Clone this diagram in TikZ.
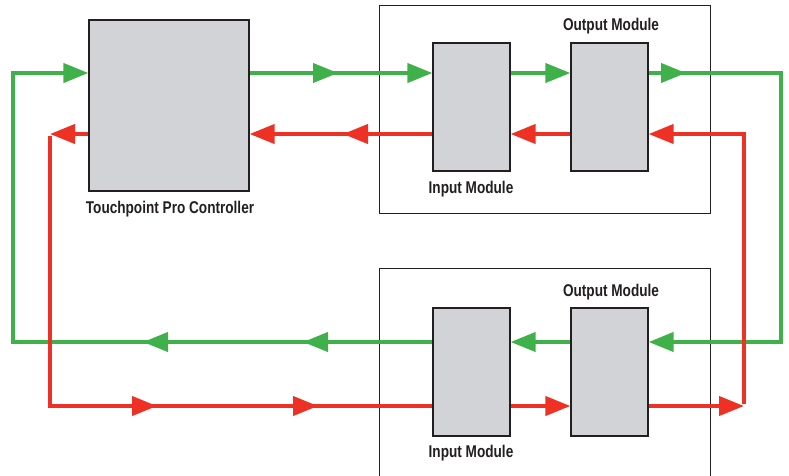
\documentclass[tikz,border=0pt]{standalone}
\usepackage{fontspec}
\setmainfont[FakeStretch=0.8]{Liberation Sans}
\usepackage{tikz}
\usetikzlibrary{arrows.meta}
\definecolor{boxgray}{HTML}{D1D3D6}
\definecolor{ink}{HTML}{231F20}
\definecolor{sigg}{HTML}{40B04A}
\definecolor{sigr}{HTML}{EE3124}
\begin{document}
\begin{tikzpicture}[x = 1pt, y = -1pt,
                        module/.style = {rectangle, draw = ink, line width = 1.2pt, fill = boxgray, inner sep = 0pt},
                        rack/.style = {draw = ink, line width = 1pt},
                        lbl/.style = {text = ink, font = \bfseries\fontsize{17}{19}\selectfont, inner sep = 0pt},
                        gline/.style = {draw = sigg, line width = 4pt},
                        rline/.style = {draw = sigr, line width = 4pt},
                        arr/.style = {-{Triangle[length = 25pt, width = 19pt]}}]
      \useasboundingbox (0, 0) rectangle (789, 475);
      \draw [rack] (379, 5) rectangle (710, 213);
      \draw [rack] (379, 268) rectangle (710, 480);
      \node [module, minimum width = 160pt, minimum height = 171pt] (ctrl) at (169, 105.5){};
      \node [module, minimum width = 77pt, minimum height = 128pt] (in1) at (471.5, 107){};
      \node [module, minimum width = 77pt, minimum height = 128pt] (out1) at (609.5, 107){};
      \node [module, minimum width = 77pt, minimum height = 128pt] (in2) at (471.5, 372){};
      \node [module, minimum width = 77pt, minimum height = 128pt] (out2) at (609.5, 372){};
      \node [lbl] (lctrl) at (170, 209){Touchpoint Pro Controller};
      \node [lbl] (lout1) at (611, 26){Output Module};
      \node [lbl] (lin1) at (471, 189){Input Module};
      \node [lbl] (lout2) at (611, 292){Output Module};
      \node [lbl] (lin2) at (471, 453){Input Module};
      % corners and mid-line arrows
      \coordinate (gl1) at (13, 342);
      \coordinate (gl2) at (13, 73);
      \coordinate (gr1) at (781, 73);
      \coordinate (gr2) at (781, 342);
      \coordinate (rl1) at (50, 134);
      \coordinate (rl2) at (50, 406);
      \coordinate (rr1) at (744, 406);
      \coordinate (rr2) at (744, 134);
      \coordinate (ga1) at (303, 342);
      \coordinate (ga2) at (143, 342);
      \coordinate (ga3) at (338, 73);
      \coordinate (ga4) at (686, 73);
      \coordinate (ra1) at (157, 406);
      \coordinate (ra2) at (318, 406);
      \coordinate (ra3) at (343, 134);
      % green loop
      \draw [gline, arr] (in2.west |- gl1) -- (gl1) -- (gl2) -- (ctrl.west |- gl2);
      \draw [gline, arr] (in2.west |- ga1) -- (ga1);
      \draw [gline, arr] (ga1) -- (ga2);
      \draw [gline, arr] (ctrl.east |- ga3) -- (in1.west |- ga3);
      \draw [gline, arr] (ctrl.east |- ga3) -- (ga3);
      \draw [gline, arr] (in1.east |- ga3) -- (out1.west |- ga3);
      \draw [gline, arr] (out1.east |- ga4) -- (gr1) -- (gr2) -- (out2.east |- gr2);
      \draw [gline, arr] (out1.east |- ga4) -- (ga4);
      \draw [gline, arr] (out2.west |- gr2) -- (in2.east |- gr2);
      % red loop
      \draw [rline, arr] (ctrl.west |- rl1) -- (rl1);
      \draw [rline] ([yshift = -2pt]rl1) -- (rl2) -- (in2.west |- rl2);
      \draw [rline, arr] (rl2) -- (ra1);
      \draw [rline, arr] (ra1) -- (ra2);
      \draw [rline, arr] (in2.east |- ra2) -- (out2.west |- ra2);
      \draw [rline, arr] (out2.east |- rr1) -- (rr1);
      \draw [rline, arr] ([yshift = 2pt]rr1) -- (rr2) -- (out1.east |- rr2);
      \draw [rline, arr] (out1.west |- rr2) -- (in1.east |- rr2);
      \draw [rline, arr] (in1.west |- rr2) -- (ctrl.east |- rr2);
      \draw [rline, arr] (in1.west |- rr2) -- (ra3);
    \end{tikzpicture}
\end{document}
